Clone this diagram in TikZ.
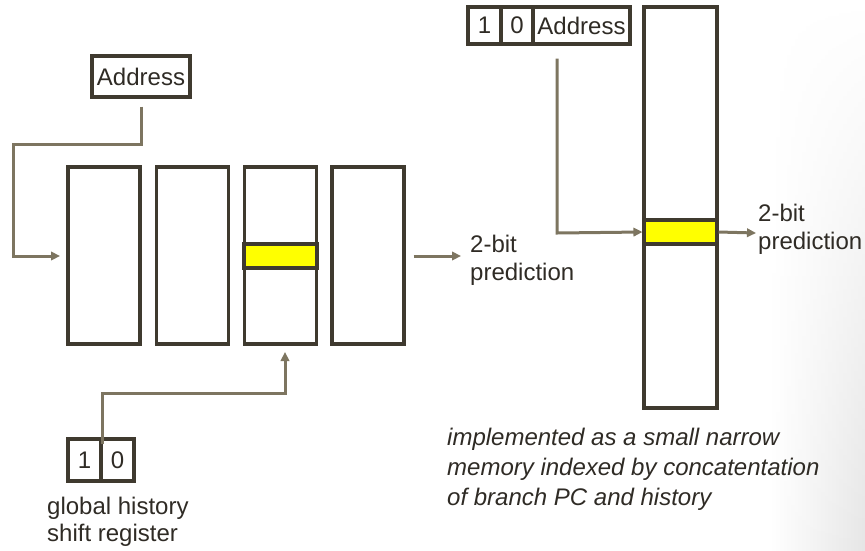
\documentclass[tikz,border=0pt]{standalone}
\usepackage{fontspec}
\setmainfont{Liberation Sans}
\usetikzlibrary{arrows.meta,fadings}
\definecolor{framec}{HTML}{3F3A2F}
\definecolor{wirec}{HTML}{7D7560}
\definecolor{inkc}{HTML}{2F2B25}
\definecolor{hitc}{HTML}{FFFF00}
\tikzset{
  cell/.style={draw=framec, line width=3.1pt, fill=white, inner sep=0pt, text=inkc,
    font=\fontsize{24}{28}\selectfont},
  bank/.style={cell, minimum width=72pt, minimum height=177pt},
  hit/.style={draw=framec, line width=3.1pt, fill=hitc, inner sep=0pt},
  wire/.style={draw=wirec, line width=3pt, -{Triangle[length=9pt,width=8.5pt]}},
  lbl/.style={text=inkc, inner sep=0pt, align=left, font=\fontsize{24}{28}\selectfont},
  note/.style={text=inkc, inner sep=0pt, align=left, font=\fontsize{24}{30}\selectfont\itshape}
}
\begin{document}
\begin{tikzpicture}[x=1pt,y=-1pt]
  \useasboundingbox (0,0) rectangle (865,550);
  % soft grey edge on the right, fading out towards the top
  \shade[left color=white, right color=black!10, path fading=north]
    (770,0) rectangle (865,550);

  % ---- left: four banks indexed by address and global history ----
  \node[cell, minimum width=98pt, minimum height=41pt] (addrL) at (141,76.5) {Address};
  \node[bank] (b1) at (104,255.5) {};
  \node[bank] (b2) at (192.5,255.5) {};
  \node[bank] (b3) at (280.5,255.5) {};
  \node[bank] (b4) at (368,255.5) {};
  \node[hit, minimum width=73pt, minimum height=24pt] (y1) at (280.5,256) {};

  \node[cell, minimum width=33pt, minimum height=42pt] (g1) at (84.5,460) {1};
  \node[cell, minimum width=33pt, minimum height=42pt] (g0) at (117.5,460) {0};

  \coordinate (k1) at (13,144);
  \coordinate (t1) at (60,256);
  \draw[wire] ([yshift=-8pt]addrL.south) |- (k1) |- (t1);

  \coordinate (k2) at (285,393);
  \coordinate (t2) at (285,352);
  \draw[wire] ([yshift=-7pt]g1.north east) |- (k2) -- (t2);

  \coordinate (t3) at (461,256);
  \draw[wire] ([xshift=8pt]b4.east |- t3) -- (t3);
  \node[lbl, anchor=base west] (p1a) at (470,252) {2-bit};
  \node[lbl, anchor=base west] (p1b) at (470,280) {prediction};

  \node[lbl, anchor=base west] (gh1) at (47,514) {global history};
  \node[lbl, anchor=base west] (gh2) at (47,541) {shift register};

  % ---- right: one narrow memory indexed by history and address ----
  \node[cell, minimum width=33pt, minimum height=37pt] (r1) at (484.5,25.5) {1};
  \node[cell, minimum width=32pt, minimum height=37pt] (r0) at (517,25.5) {0};
  \node[cell, minimum width=97pt, minimum height=37pt] (rA) at (581.5,25.5) {Address};

  \node[cell, minimum width=73pt, minimum height=401pt] (col) at (680.5,207.5) {};
  \node[hit, minimum width=73pt, minimum height=24pt] (y2) at (680.5,232) {};

  \coordinate (k3) at (557,233);
  \draw[wire] ([yshift=-13pt]rA.south -| k3) -- (k3) -- (y2.west);
  \coordinate (t4) at (756,233);
  \draw[wire] (y2.east) -- (t4);
  \node[lbl, anchor=base west] (p2a) at (758,221) {2-bit};
  \node[lbl, anchor=base west] (p2b) at (758,249) {prediction};

  \node[note, anchor=base west] (n1) at (447,445) {implemented as a small narrow};
  \node[note, anchor=base west] (n2) at (447,475) {memory indexed by concatentation};
  \node[note, anchor=base west] (n3) at (447,505) {of branch PC and history};
\end{tikzpicture}
\end{document}
